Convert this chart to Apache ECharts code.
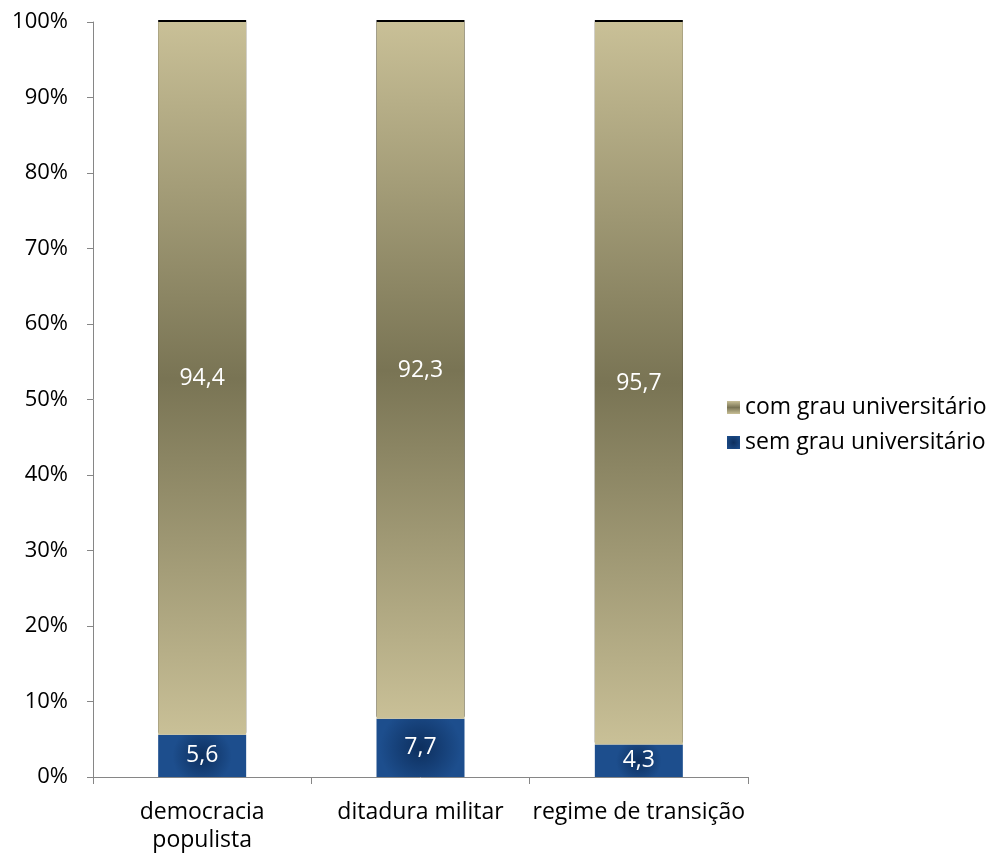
<!DOCTYPE html>
<html>
<head>
<meta charset="utf-8">
<script src="https://cdn.jsdelivr.net/npm/echarts@6/dist/echarts.min.js"></script>
<style>
  html, body { margin: 0; padding: 0; background: #fff; }
  #chart { width: 992px; height: 856px; }
</style>
</head>
<body>
<div id="chart"></div>
<script>
// Categories and values (percent shares per regime)
const categories = ['democracia\npopulista', 'ditadura militar', 'regime de transição'];
const semGrau = [5.6, 7.7, 4.3];
const comGrau = [94.4, 92.3, 95.7];
const seriesNames = ['sem grau universitário', 'com grau universitário'];
const yTicks = [0, 10, 20, 30, 40, 50, 60, 70, 80, 90, 100];

const fontFamily = '"Open Sans", "Noto Sans", sans-serif';
const fmt = p => String(p.value).replace('.', ',');

const tanFill = {
  type: 'linear', x: 0, y: 0, x2: 0, y2: 1,
  colorStops: [
    { offset: 0, color: '#c9c097' },
    { offset: 0.5, color: '#797454' },
    { offset: 1, color: '#c9c097' }
  ]
};
const blueFill = {
  type: 'radial', x: 0.5, y: 0.5, r: 0.7,
  colorStops: [
    { offset: 0, color: '#0d2f5e' },
    { offset: 1, color: '#1d4e8d' }
  ]
};

const chart = echarts.init(document.getElementById('chart'));
chart.setOption({
  animation: false,
  grid: { left: 93, right: 244, top: 22, bottom: 79 },
  legend: {
    orient: 'vertical',
    left: 722,
    top: 391,
    itemWidth: 13,
    itemHeight: 13,
    itemGap: 12,
    icon: 'rect',
    data: [seriesNames[1], seriesNames[0]],
    textStyle: { fontFamily, fontSize: 23, lineHeight: 23, color: '#000' }
  },
  xAxis: {
    type: 'category',
    data: categories,
    axisLine: { lineStyle: { color: '#868686', width: 1 } },
    axisTick: { show: true, length: 7, lineStyle: { color: '#868686' } },
    axisLabel: { interval: 0, fontFamily, fontSize: 23, color: '#000', margin: 21, lineHeight: 28 }
  },
  yAxis: {
    type: 'value',
    min: yTicks[0],
    max: yTicks[yTicks.length - 1],
    interval: 10,
    splitLine: { show: false },
    axisLine: { show: true, lineStyle: { color: '#868686', width: 1 } },
    axisTick: { show: true, length: 6, lineStyle: { color: '#868686' } },
    axisLabel: { fontFamily, fontSize: 22, color: '#000', margin: 25, formatter: v => v + '%' }
  },
  series: [
    {
      name: seriesNames[0],
      type: 'bar',
      stack: 'total',
      barWidth: 88,
      data: semGrau,
      itemStyle: { color: blueFill },
      label: { show: true, position: 'inside', formatter: fmt, fontFamily, fontSize: 23, color: '#fff' }
    },
    {
      name: seriesNames[1],
      type: 'bar',
      stack: 'total',
      barWidth: 88,
      data: comGrau,
      itemStyle: {
        color: tanFill,
        shadowColor: '#000',
        shadowBlur: 0,
        shadowOffsetY: -2
      },
      label: { show: true, position: 'inside', formatter: fmt, fontFamily, fontSize: 23, color: '#fff' }
    }
  ]
});
</script>
</body>
</html>
